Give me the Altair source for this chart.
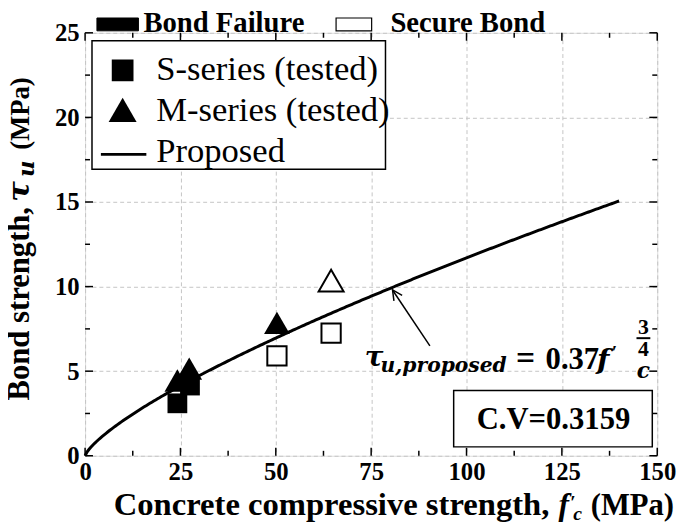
import altair as alt
import pandas as pd
import numpy as np

# ---------------- data ----------------
s_fc = [24.2, 27.5, 50.3, 64.5]
s_tau = [3.1, 4.15, 5.9, 7.25]
s_status = ["Bond Failure", "Bond Failure", "Secure Bond", "Secure Bond"]
m_fc = [24.2, 27.3, 50.3, 64.5]
m_tau = [4.45, 5.15, 7.85, 10.35]
m_status = ["Bond Failure", "Bond Failure", "Bond Failure", "Secure Bond"]

coef = 0.37      # proposed: tau = 0.37 * fc^(3/4)
expo = 0.75
fc_max = 140

x_ticks = [0, 25, 50, 75, 100, 125, 150]
y_ticks = [0, 5, 10, 15, 20, 25]
x_minor = [12.5, 37.5, 62.5, 87.5, 112.5, 137.5]
y_minor = [2.5, 7.5, 12.5, 17.5, 22.5]

cv_label = "C.V=0.3159"
arrow_tail = (90.4, 6.5)
arrow_head = (80.6, 9.8)

W, H = 579, 428
SERIF = "Liberation Serif, Times New Roman, serif"
MATH = "DejaVu Serif, serif"

# ---------------- frames ----------------
pts = pd.DataFrame({
    "fc": s_fc + m_fc,
    "tau": s_tau + m_tau,
    "series": ["S"] * len(s_fc) + ["M"] * len(m_fc),
    "status": s_status + m_status,
})
fc_curve = np.linspace(0, fc_max, 281)
curve = pd.DataFrame({"fc": fc_curve, "tau": coef * fc_curve ** expo})
arrow = pd.DataFrame({"fc": [arrow_tail[0]], "tau": [arrow_tail[1]],
                      "fc2": [arrow_head[0]], "tau2": [arrow_head[1]]})
head = pd.DataFrame({"fc": [arrow_head[0]], "tau": [arrow_head[1]]})
one = pd.DataFrame({"a": [0]})

xscale = alt.Scale(domain=[0, 150], nice=False, zero=False)
yscale = alt.Scale(domain=[0, 25], nice=False, zero=False)

axis_common = dict(title=None, ticks=False, domain=False, grid=True,
                   gridDash=[4, 3], gridColor="#c4c4c4", gridWidth=1,
                   labelFont=SERIF, labelFontSize=25, labelFontWeight="bold",
                   labelColor="black", labelFlush=False, labelOverlap=False,
                   format="d")
xenc = alt.X("fc:Q", scale=xscale,
             axis=alt.Axis(values=x_ticks, labelPadding=4, **axis_common))
yenc = alt.Y("tau:Q", scale=yscale,
             axis=alt.Axis(values=y_ticks, labelPadding=6, **axis_common))

layers = []

# inward ticks (bottom/top/left/right)
xt_major = pd.DataFrame({"fc": x_ticks})
xt_minor = pd.DataFrame({"fc": x_minor})
yt_major = pd.DataFrame({"tau": y_ticks})
yt_minor = pd.DataFrame({"tau": y_minor})
for df, ln in [(xt_major, 8), (xt_minor, 5)]:
    layers.append(alt.Chart(df).mark_rule(color="black", strokeWidth=1.5).encode(
        x=xenc, y=alt.value(H), y2=alt.value(H - ln)))
    layers.append(alt.Chart(df).mark_rule(color="black", strokeWidth=1.5).encode(
        x=xenc, y=alt.value(0), y2=alt.value(ln)))
for df, ln in [(yt_major, 8), (yt_minor, 5)]:
    layers.append(alt.Chart(df).mark_rule(color="black", strokeWidth=1.5).encode(
        y=yenc, x=alt.value(0), x2=alt.value(ln)))
    layers.append(alt.Chart(df).mark_rule(color="black", strokeWidth=1.5).encode(
        y=yenc, x=alt.value(W), x2=alt.value(W - ln)))

# proposed curve
layers.append(alt.Chart(curve).mark_line(color="black", strokeWidth=3).encode(
    x=xenc, y=yenc))

# arrow
layers.append(alt.Chart(arrow).mark_rule(color="black", strokeWidth=1.5).encode(
    x=xenc, y=yenc, x2="fc2:Q", y2="tau2:Q"))
layers.append(alt.Chart(head).mark_point(
    shape="M -0.55 1.1 L 0 0 L 0.55 1.1", filled=False, stroke="black",
    strokeWidth=1.5, size=330, angle=326, opacity=1).encode(x=xenc, y=yenc))

# points
base = alt.Chart(pts)
layers.append(base.transform_filter(
    "datum.series == 'S' && datum.status == 'Bond Failure'").mark_point(
    shape="square", size=400, filled=True, color="black", opacity=1).encode(x=xenc, y=yenc))
layers.append(base.transform_filter(
    "datum.series == 'S' && datum.status == 'Secure Bond'").mark_point(
    shape="square", size=380, fill="white", stroke="black", strokeWidth=2,
    fillOpacity=1, opacity=1).encode(x=xenc, y=yenc))
layers.append(base.transform_filter(
    "datum.series == 'M' && datum.status == 'Bond Failure'").mark_point(
    shape="triangle-up", size=680, filled=True, color="black", opacity=1).encode(x=xenc, y=yenc))
layers.append(base.transform_filter(
    "datum.series == 'M' && datum.status == 'Secure Bond'").mark_point(
    shape="triangle-up", size=640, fill="white", stroke="black", strokeWidth=2,
    fillOpacity=1, opacity=1).encode(x=xenc, y=yenc))

# boxes (legend, C.V) and top legend swatches
def box(x1, y1, x2, y2, fill="white", sw=1.5):
    return alt.Chart(one).mark_rect(fill=fill, stroke="black", strokeWidth=sw).encode(
        x=alt.value(x1), x2=alt.value(x2), y=alt.value(y1), y2=alt.value(y2))

layers.append(box(7, 8, 304, 138))
layers.append(box(373, 362, 574, 419))
layers.append(box(12, -15, 54, -2, fill="black", sw=1))
layers.append(box(254, -15, 290, -2, fill="white", sw=1.2))

# legend symbols
layers.append(alt.Chart(one).mark_point(shape="square", size=484, filled=True,
                                        color="black", opacity=1).encode(
    x=alt.value(38), y=alt.value(38)))
layers.append(alt.Chart(one).mark_point(shape="triangle-up", size=800, filled=True,
                                        color="black", opacity=1).encode(
    x=alt.value(38), y=alt.value(78)))
layers.append(alt.Chart(one).mark_rule(color="black", strokeWidth=3).encode(
    x=alt.value(16), x2=alt.value(62), y=alt.value(123)))

# texts
def txt(t, x, y, size, font=SERIF, weight="bold", style="normal",
        align="left", baseline="alphabetic", angle=0):
    kw = dict(text=t, font=font, fontSize=size, fontWeight=weight,
              fontStyle=style, align=align, baseline=baseline, color="black")
    if angle:
        kw["angle"] = angle
    return alt.Chart(one).mark_text(**kw).encode(x=alt.value(x), y=alt.value(y))

texts = [
    txt("Bond Failure", 59, -1, 29),
    txt("Secure Bond", 309, -1, 29),
    txt("S-series (tested)", 72, 48, 35, weight="normal"),
    txt("M-series (tested)", 72, 89, 35, weight="normal"),
    txt("Proposed", 72, 131, 35, weight="normal"),
    txt(cv_label, 474, 392, 31, align="center", baseline="middle"),
    # equation
    txt("τ", 283, 337, 28, font=MATH, style="italic"),
    txt("u,proposed", 299, 343, 20.5, font=MATH, style="italic"),
    txt("=", 436, 340, 34),
    txt("0.37", 466, 340, 31),
    txt("f", 518, 340, 29, font=MATH, style="italic"),
    txt("′", 533, 324, 20, align="left", baseline="middle"),
    txt("3", 565, 298, 22, align="center", baseline="middle"),
    txt("4", 565, 320, 22, align="center", baseline="middle"),
    txt("c", 565, 342, 22, font=MATH, style="italic", align="center", baseline="middle"),
    # x title
    txt("Concrete compressive strength,", 29, 488, 33),
    txt("f", 479, 488, 32, style="italic"),
    txt("′", 491, 476, 20, baseline="middle"),
    txt("c", 494, 493, 20, style="italic"),
    txt("(MPa)", 596, 488, 31, align="right"),
    # y title
    txt("Bond strength,", -57, 372, 31, angle=270),
    txt("τ", -57, 171, 31, font=MATH, style="italic", angle=270),
    txt("u", -52, 146, 23, font=MATH, style="italic", angle=270),
    txt("(MPa)", -57, 45, 27, align="right", angle=270),
]
layers += texts

# fraction bar
layers.append(alt.Chart(one).mark_rule(color="black", strokeWidth=2).encode(
    x=alt.value(558), x2=alt.value(572), y=alt.value(309)))

chart = alt.layer(*layers).properties(
    width=W, height=H,
    padding={"left": 78, "top": 22, "right": 20, "bottom": 71},
    autosize=alt.AutoSizeParams(type="none"),
).configure_view(stroke="black", strokeWidth=2.5).configure(background="white")

chart.save("out.html", embed_options={"renderer": "svg", "actions": False})
